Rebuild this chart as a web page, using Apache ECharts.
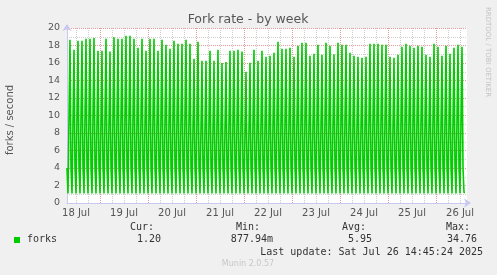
<!DOCTYPE html>
<html>
<head>
<meta charset="utf-8">
<script src="https://cdn.jsdelivr.net/npm/echarts@6/dist/echarts.min.js"></script>
<style>
html,body{margin:0;padding:0;background:#f0f0f0;}
#chart{width:497px;height:275px;}
</style>
</head>
<body>
<div id="chart"></div>
<script>
// ---- data ----
// hours counted from 18 Jul 00:00; one spike every 2 h starting at 09:00
const startHour = 7.5;          // left edge of the plot
const endHour = 207.5;          // right edge of the plot
const firstPeakHour = 9;
const leadValues = [4.0, 1.1, 1.1];   // samples at 07:30, 08:00, 08:30
const peaks = [
  18.66, 17.52, 18.55, 18.55, 18.78, 18.78, 18.85, 17.41, 17.41, 18.78,
  17.30, 18.93, 18.78, 18.78, 19.12, 19.12, 18.78, 17.75, 18.78, 17.41,
  18.78, 18.78, 17.41, 18.66, 18.09, 17.63, 18.55, 18.20, 18.20, 18.66,
  18.20, 16.49, 18.43, 16.26, 16.26, 17.41, 16.26, 17.52, 16.00, 16.11,
  17.41, 17.41, 17.52, 17.30, 15.00, 16.03, 17.52, 16.26,
  17.41, 16.72, 16.83, 17.18, 18.43, 17.63, 17.63, 17.75, 16.72, 17.98,
  18.32, 18.32, 16.83, 17.06, 18.09, 16.95, 18.32, 17.98, 17.00, 18.32,
  18.09, 18.09, 17.18, 16.83, 16.72, 16.60, 16.72, 18.20, 18.20, 18.20,
  18.09, 18.09, 16.72, 16.60, 16.95, 17.86, 18.20, 17.98, 17.75, 17.98,
  17.86, 16.95, 16.72, 18.20, 17.86, 16.83, 17.98, 17.06, 17.75, 18.09,
  17.86
];
const tails = [
  4,4,4,4,4,4,4,4,4,4, 4,4,4,4,4,4,4,4,4,4, 4,4,4,4,4,4,4,4,4,4,
  4,4,4,4,4,4,4,4,4,4, 4,4,4,4,4,4,4,4,4,4, 4,4,4,4,4,4,4,4,4,4,
  4,4,4,4,4,4,4,4,4,4, 4,4,4,4,4,4,4,4,4,4, 4,4,4,4,4,4,4,4,4,4,
  4,4,4,4,4,4,4,4,4
];
const lows = [
  1.1,1.1,1.1,1.1,1.1,1.1,1.1,1.1,1.1,1.1, 1.1,1.1,1.1,1.1,1.1,1.1,1.1,1.1,1.1,1.1,
  1.1,1.1,1.1,1.1,1.1,1.1,1.1,1.1,1.1,1.1, 1.1,1.1,1.1,1.1,1.1,1.1,1.1,1.1,1.1,1.1,
  1.1,1.1,1.1,1.1,1.1,1.1,1.1,1.1,1.1,1.1, 1.1,1.1,1.1,1.1,1.1,1.1,1.1,1.1,1.1,1.1,
  1.1,1.1,1.1,1.1,1.1,1.1,1.1,1.1,1.1,1.1, 1.1,1.1,1.1,1.1,1.1,1.1,1.1,1.1,1.1,1.1,
  1.1,1.1,1.1,1.1,1.1,1.1,1.1,1.1,1.1,1.1, 1.1,1.1,1.1,1.1,1.1,1.1,1.1,1.1,1.2
];
const dayLabels = ['18 Jul','19 Jul','20 Jul','21 Jul','22 Jul','23 Jul','24 Jul','25 Jul','26 Jul'];
const yTicks = [0,2,4,6,8,10,12,14,16,18,20];
const statHeaders = ['Cur:','Min:','Avg:','Max:'];
const statValues = ['1.20','877.94m','5.95','34.76'];
const seriesName = 'forks';
const lastUpdate = 'Last update: Sat Jul 26 14:45:24 2025';

// ---- build the line samples (30-minute steps) ----
const points = [];
leadValues.forEach((v, i) => points.push([startHour + i * 0.5, v]));
peaks.forEach((p, i) => {
  const t = firstPeakHour + i * 2;
  points.push([t, p]);
  points.push([t + 0.5, tails[i]]);
  points.push([t + 1, lows[i]]);
  points.push([t + 1.5, lows[i]]);
});

const RED = '#e89a9a', GRAY = '#cfcfcf', NONE = 'rgba(0,0,0,0)';
// x ticks every 1.5 h from 7.5; every 6 h gray, every 24 h (midnight) red
const xColors = [];
for (let k = 0; k < 16; k++) {
  xColors.push(k === 11 ? RED : (k % 4 === 3 ? GRAY : NONE));
}

const chart = echarts.init(document.getElementById('chart'), null, {renderer: 'canvas'});
const txt = '#555';
const mono = '10px "DejaVu Sans Mono"';
const graphics = [
  {type:'text', x:248, y:20, style:{text:'Fork rate - by week', font:'12.5px "DejaVu Sans"', fill:txt, textAlign:'center', textVerticalAlign:'middle'}},
  {type:'text', x:488, y:52, rotation:-Math.PI/2, style:{text:'RRDTOOL / TOBI OETIKER', font:'7px "DejaVu Sans"', fill:'#c4c4c4', textAlign:'center', textVerticalAlign:'middle'}},
  {type:'text', x:10, y:120, rotation:Math.PI/2, style:{text:'forks / second', font:'10px "DejaVu Sans"', fill:txt, textAlign:'center', textVerticalAlign:'middle'}},
  {type:'rect', shape:{x:14, y:237, width:6, height:6}, style:{fill:'#00cc00'}},
  {type:'text', x:27, y:239.5, style:{text:seriesName, font:mono, fill:'#333', textAlign:'left', textVerticalAlign:'middle'}},
  {type:'text', x:483, y:252, style:{text:lastUpdate, font:mono, fill:'#333', textAlign:'right', textVerticalAlign:'middle'}},
  {type:'text', x:248, y:264, style:{text:'Munin 2.0.57', font:'8px "DejaVu Sans"', fill:'#c8c8c8', textAlign:'center', textVerticalAlign:'middle'}}
];
const headerEnds = [154, 260, 366, 470];
const valueEnds = [161, 273, 372, 477];
statHeaders.forEach((h, i) => graphics.push({type:'text', x:headerEnds[i], y:227.5, style:{text:h, font:mono, fill:'#333', textAlign:'right', textVerticalAlign:'middle'}}));
statValues.forEach((v, i) => graphics.push({type:'text', x:valueEnds[i], y:239.5, style:{text:v, font:mono, fill:'#333', textAlign:'right', textVerticalAlign:'middle'}}));

chart.setOption({
  animation: false,
  backgroundColor: '#f0f0f0',
  grid: {left:67, right:30, top:28, bottom:72, show:true, backgroundColor:'#ffffff', borderWidth:0},
  xAxis: {
    type:'value', min:startHour, max:endHour, interval:1.5,
    axisLine:{show:true, lineStyle:{color:'#c8c8f0', width:1}, symbol:['none','arrow'], symbolSize:[7,7], symbolOffset:[0,4]},
    axisTick:{show:false},
    axisLabel:{margin:5, color:txt, fontFamily:'DejaVu Sans', fontSize:10,
      formatter: v => { const d = (v - 12) / 24; return (Number.isInteger(d) && d >= 0 && d < dayLabels.length) ? dayLabels[d] : ''; }},
    splitLine:{show:true, showMaxLine:false, lineStyle:{color:xColors, width:1, type:[1,1]}}
  },
  yAxis: {
    type:'value', min:0, max:20, interval:1,
    axisLine:{show:true, lineStyle:{color:'#c8c8f0', width:1}, symbol:['none','arrow'], symbolSize:[7,7], symbolOffset:[0,4]},
    axisTick:{show:false},
    axisLabel:{margin:7, color:txt, fontFamily:'DejaVu Sans', fontSize:9.5,
      formatter: v => yTicks.indexOf(v) >= 0 ? String(v) : ''},
    splitLine:{show:true, lineStyle:{color:[RED, GRAY], width:1, type:[1,1]}}
  },
  series: [{
    name: seriesName, type:'line', data: points, showSymbol:false, symbol:'none',
    lineStyle:{color:'#00cc00', width:1.6, join:'bevel'}, itemStyle:{color:'#00cc00'},
    clip:true, z:3
  }],
  graphic: graphics
});
</script>
</body>
</html>
